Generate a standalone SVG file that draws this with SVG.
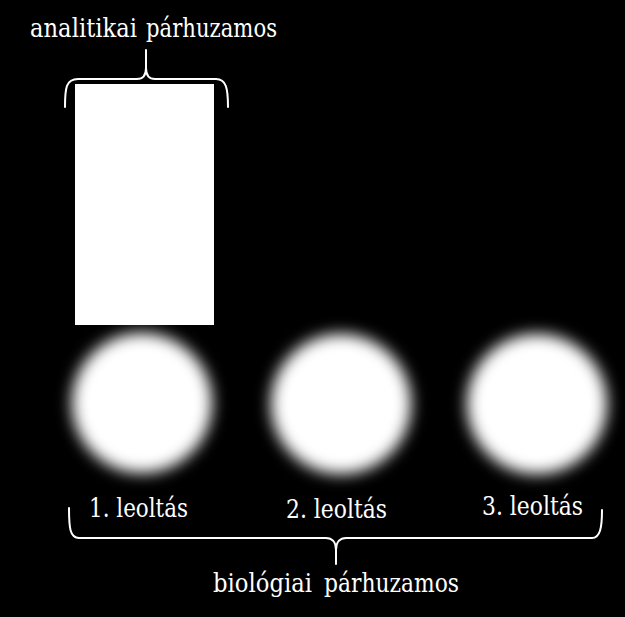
<svg xmlns="http://www.w3.org/2000/svg" width="625" height="617" viewBox="0 0 625 617">
<style>
  .lbl { font-family: 'DejaVu Serif', serif; font-size: 25.5px; fill: #ffffff; }
  .brace { fill: none; stroke: #ffffff; stroke-width: 2; stroke-linecap: round; stroke-linejoin: round; }
  .spot { fill: #ffffff; filter: url(#blur); }
</style>
<defs>
  <filter id="blur" x="-50%" y="-50%" width="200%" height="200%">
    <feGaussianBlur stdDeviation="7.5"/>
  </filter>
</defs>
<rect x="0" y="0" width="625" height="617" fill="#000000"/>

<g id="analytical-sample">
  <rect x="75" y="84" width="139" height="241" fill="#ffffff"/>
</g>

<g id="spot-1"><circle class="spot" cx="142" cy="403" r="70"/></g>
<g id="spot-2"><circle class="spot" cx="341" cy="404" r="70"/></g>
<g id="spot-3"><circle class="spot" cx="537" cy="404" r="70"/></g>

<g id="connectors">
  <path class="brace" d="M65,107 C65,88 66,79 78,79 L137,79 C143,79 146,76 146,68 L146,50 L146,68 C146,76 149,79 155,79 L216,79 C226,79 228,88 228,107"/>
  <path class="brace" d="M69,508 C69,528 70,538 79,538 L326,538 C332,538 336,542 336,550 L336,564 L336,550 C336,542 340,538 346,538 L592,538 C600,538 602,528 602,510"/>
</g>

<g id="label-analitikai">
  <text class="lbl" x="30" y="37" textLength="107" lengthAdjust="spacingAndGlyphs">analitikai</text>
  <text class="lbl" x="146" y="37" textLength="131" lengthAdjust="spacingAndGlyphs">párhuzamos</text>
</g>
<g id="label-1"><text class="lbl" x="89" y="517" textLength="99" lengthAdjust="spacingAndGlyphs">1. leoltás</text></g>
<g id="label-2"><text class="lbl" x="286" y="518" textLength="101" lengthAdjust="spacingAndGlyphs">2. leoltás</text></g>
<g id="label-3"><text class="lbl" x="482" y="515" textLength="101" lengthAdjust="spacingAndGlyphs">3. leoltás</text></g>
<g id="label-biologiai">
  <text class="lbl" x="213" y="592" textLength="99" lengthAdjust="spacingAndGlyphs">biológiai</text>
  <text class="lbl" x="324" y="592" textLength="135" lengthAdjust="spacingAndGlyphs">párhuzamos</text>
</g>
</svg>
